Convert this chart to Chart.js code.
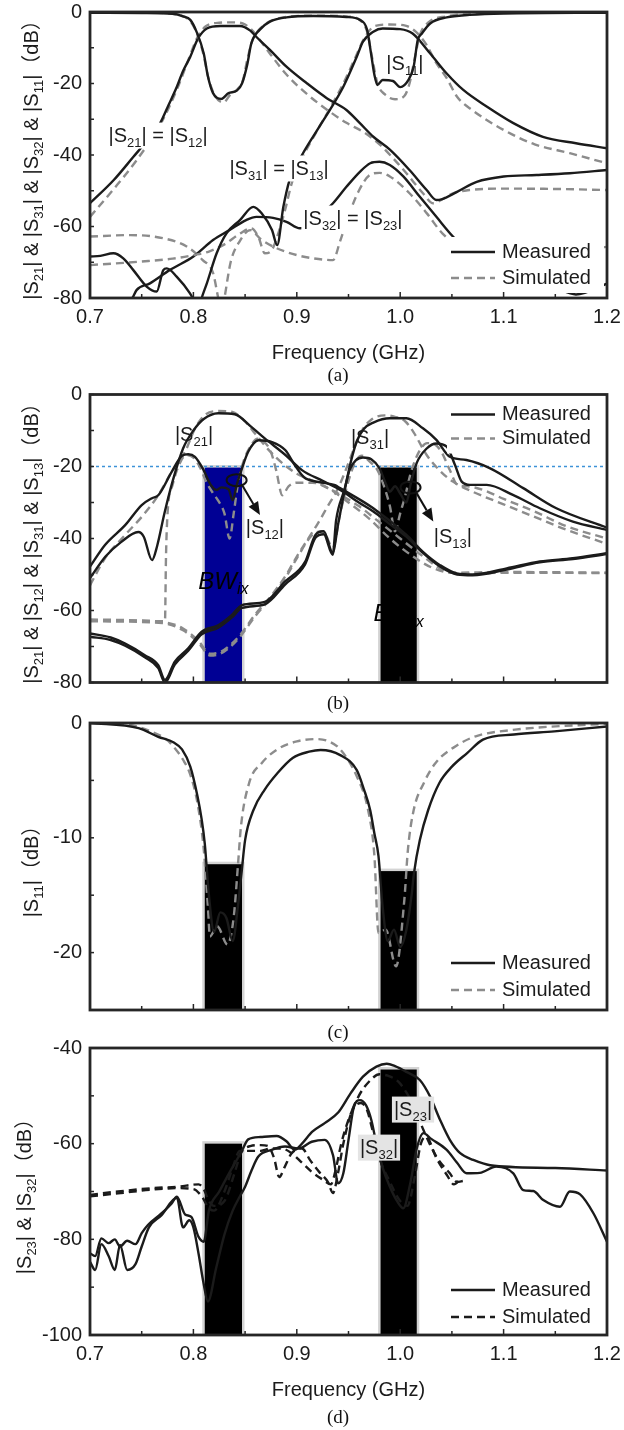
<!DOCTYPE html>
<html>
<head>
<meta charset="utf-8">
<script src="https://cdn.jsdelivr.net/npm/chart.js@4.4.1/dist/chart.umd.min.js"></script>
<style>
  body { margin: 0; background: #fff; }
  #page { position: relative; width: 624px; height: 1430px; overflow: hidden; background: #fff; }
  canvas { position: absolute; left: 0; }
  .cap { position: absolute; left: 338px; transform: translate(-50%, -50%); font: 19px 'Liberation Serif', 'DejaVu Serif', serif; color: #111; }
</style>
</head>
<body>
<div id="page">
  <canvas id="chartA" width="624" height="370" style="top:0px"></canvas>
  <canvas id="chartB" width="624" height="320" style="top:380px"></canvas>
  <canvas id="chartC" width="624" height="310" style="top:710px"></canvas>
  <canvas id="chartD" width="624" height="375" style="top:1030px"></canvas>
  <div class="cap" style="top:375px">(a)</div>
  <div class="cap" style="top:703px">(b)</div>
  <div class="cap" style="top:1032px">(c)</div>
  <div class="cap" style="top:1417px">(d)</div>
</div>
<script>
// ---- shared axis values ----
const freqTicks = [0.7, 0.8, 0.9, 1.0, 1.1, 1.2];
const freqMinor = [0.75, 0.85, 0.95, 1.05, 1.15];
const bandEdges = [[0.811, 0.847], [0.981, 1.016]];
const bandTopsB = [-20.3, -20.3];
const bandTopsC = [-12.3, -12.9];
const bandTopsD = [-60, -44.5];
const thresholdB = -20;

// ---- (a) [GHz, dB] ----
const aS11Meas = [[0.70,-0.2],[0.75,-0.3],[0.78,-0.5],[0.79,-1.2],[0.797,-2.2],[0.803,-5.5],[0.81,-11.6],[0.814,-18],[0.819,-22.7],[0.827,-24.3],[0.834,-22.7],[0.842,-22],[0.847,-20],[0.852,-14.8],[0.856,-8.8],[0.864,-5],[0.874,-2.7],[0.89,-1.5],[0.916,-1.1],[0.948,-1.4],[0.961,-2.2],[0.968,-5],[0.972,-12],[0.975,-17.5],[0.978,-20.4],[0.983,-19],[0.993,-19.3],[1.0,-21],[1.008,-19],[1.013,-15.3],[1.017,-7.8],[1.021,-6],[1.029,-3.2],[1.045,-1.5],[1.067,-0.8],[1.1,-0.4],[1.2,-0.2]];
const aS11Sim = [[0.70,0],[0.76,-0.2],[0.785,-0.8],[0.795,-2],[0.802,-5],[0.809,-11],[0.815,-19],[0.821,-23.5],[0.829,-25.3],[0.836,-23],[0.843,-21.5],[0.848,-19],[0.852,-13.5],[0.857,-8],[0.865,-4.5],[0.875,-2.5],[0.89,-1.4],[0.92,-1.0],[0.95,-1.3],[0.962,-2.5],[0.968,-5.5],[0.973,-13],[0.978,-20],[0.985,-23],[0.995,-24.4],[1.004,-23.5],[1.009,-20],[1.014,-13],[1.019,-6.5],[1.027,-3],[1.045,-1.2],[1.07,-0.5],[1.1,-0.2],[1.2,0]];
const aS21Meas = [[0.70,-53.5],[0.723,-47],[0.742,-40.5],[0.755,-36],[0.768,-31],[0.776,-26],[0.784,-20.9],[0.79,-16.5],[0.797,-12.5],[0.8045,-7.4],[0.813,-4.6],[0.826,-3.9],[0.845,-3.9],[0.855,-5.2],[0.861,-7],[0.874,-10.6],[0.89,-15.3],[0.91,-20],[0.929,-24.1],[0.948,-27.4],[0.961,-31.1],[0.974,-34.9],[0.99,-38.5],[1.009,-44.2],[1.0256,-49.8],[1.035,-52.6],[1.04,-52.4],[1.055,-50.3],[1.074,-47.5],[1.1,-46],[1.132,-45.6],[1.164,-45.1],[1.2,-44.2]];
const aS21Sim = [[0.70,-57.3],[0.723,-49.5],[0.745,-41.5],[0.768,-31.5],[0.784,-21.7],[0.795,-13.5],[0.804,-7],[0.812,-4],[0.825,-3],[0.84,-2.9],[0.85,-3.5],[0.858,-5.5],[0.866,-8.5],[0.875,-12],[0.89,-17.5],[0.91,-23],[0.93,-27.5],[0.948,-31],[0.964,-33.5],[0.98,-37],[0.995,-41.5],[1.006,-45.1],[1.022,-50.7],[1.032,-53.5],[1.04,-52.5],[1.051,-50.7],[1.067,-49.8],[1.1,-49.4],[1.15,-49.5],[1.2,-49.8]];
const aS31Meas = [[0.70,-68.4],[0.71,-68.2],[0.7226,-67.5],[0.7322,-68.9],[0.7419,-72.2],[0.7548,-76.8],[0.7645,-78.2],[0.7709,-72.2],[0.7742,-71.7],[0.7838,-74],[0.7967,-78.7],[0.80,-80.5],[0.804,-84],[0.808,-80],[0.813,-75.9],[0.8225,-67.5],[0.832,-61.9],[0.845,-58.2],[0.858,-54.5],[0.866,-56.3],[0.876,-61],[0.881,-65.2],[0.887,-54.5],[0.893,-47],[0.906,-39.5],[0.922,-32],[0.932,-27.4],[0.945,-20.9],[0.958,-12.5],[0.964,-8.3],[0.974,-5.5],[0.983,-4.6],[1.0,-4.8],[1.012,-6],[1.029,-11.6],[1.045,-17.2],[1.061,-21.8],[1.084,-26.5],[1.109,-31],[1.138,-34.9],[1.17,-36.7],[1.2,-38.1]];
const aS31Sim = [[0.70,-70.8],[0.75,-69.8],[0.78,-69],[0.80,-68],[0.815,-67],[0.83,-65],[0.845,-62],[0.856,-60.5],[0.863,-63],[0.869,-67.5],[0.876,-66.5],[0.882,-62],[0.889,-55],[0.895,-48],[0.905,-41],[0.92,-33],[0.932,-27],[0.945,-20],[0.957,-12.5],[0.965,-7.5],[0.975,-4],[0.99,-3.5],[1.005,-3.8],[1.015,-5.5],[1.025,-9],[1.035,-14.3],[1.045,-18.5],[1.055,-23.7],[1.07,-27.5],[1.1,-33],[1.13,-37],[1.164,-39.5],[1.2,-42.3]];
const aS32Meas = [[0.73,-84],[0.741,-80],[0.745,-77.8],[0.758,-75.9],[0.777,-72.2],[0.80,-68.4],[0.819,-63.8],[0.835,-61],[0.851,-58.2],[0.861,-57.3],[0.877,-57.6],[0.89,-58.7],[0.903,-60.5],[0.912,-60],[0.925,-56.3],[0.935,-53.5],[0.948,-48.9],[0.961,-44.7],[0.971,-42.3],[0.98,-41.9],[0.99,-42.8],[1.003,-46],[1.019,-51.7],[1.035,-57.3],[1.051,-62.8],[1.07,-68],[1.09,-71],[1.12,-74],[1.15,-77],[1.17,-79],[1.2,-76]];
const aS32Sim = [[0.70,-62.8],[0.739,-62.4],[0.771,-63.3],[0.7935,-65.6],[0.809,-69.4],[0.819,-73],[0.824,-80],[0.827,-84],[0.83,-80],[0.836,-70],[0.845,-64],[0.855,-61],[0.865,-63.5],[0.88,-66],[0.9,-68],[0.916,-68.9],[0.935,-69.4],[0.942,-64],[0.95,-57],[0.96,-50],[0.971,-45.5],[0.98,-45],[0.99,-46],[1.009,-50.7],[1.026,-56.4],[1.041,-62],[1.06,-66],[1.1,-67.5],[1.15,-67],[1.2,-65.7]];

// ---- (b) ----
const bS21Meas = [[0.70,-51],[0.715,-45],[0.73,-41],[0.7467,-38.2],[0.752,-39.5],[0.76,-46],[0.765,-42],[0.772,-33],[0.78,-24],[0.79,-15],[0.80,-10],[0.81,-6.8],[0.824,-5.2],[0.84,-5.5],[0.856,-9],[0.869,-12.2],[0.889,-16.8],[0.905,-21],[0.925,-24],[0.942,-26.5],[0.96,-30],[0.974,-32.5],[0.99,-36],[1.006,-39.5],[1.022,-44],[1.0385,-47.8],[1.055,-50],[1.07,-50.2],[1.103,-48.6],[1.135,-46.6],[1.167,-45.7],[1.2,-44.3]];
const bS12Meas = [[0.70,-47.8],[0.7145,-41.8],[0.734,-36.3],[0.75,-30.7],[0.76,-28.8],[0.766,-28],[0.779,-21.5],[0.789,-17],[0.795,-16.6],[0.8015,-17.3],[0.809,-20.5],[0.817,-25.2],[0.8225,-26.5],[0.827,-25.8],[0.834,-26.3],[0.838,-29.4],[0.842,-25],[0.847,-20.5],[0.853,-15.9],[0.863,-12.7],[0.876,-13.2],[0.889,-15.5],[0.898,-19.6],[0.907,-23],[0.921,-24.3],[0.937,-25.2],[0.9418,-26],[0.974,-31.6],[1.006,-39],[1.022,-43.7],[1.0385,-47.4],[1.0546,-49.7],[1.07,-50],[1.103,-48.3],[1.135,-46.4],[1.167,-45.5],[1.2,-44.1]];
const bS31Meas = [[0.70,-66.4],[0.72,-67.5],[0.734,-69.2],[0.753,-72.4],[0.766,-75.2],[0.7725,-79.3],[0.782,-74.2],[0.795,-70.5],[0.808,-65.9],[0.824,-64.1],[0.837,-61.3],[0.847,-58.5],[0.869,-57.6],[0.8886,-52],[0.908,-46.5],[0.918,-39],[0.926,-38],[0.9347,-43.9],[0.94,-36],[0.946,-27],[0.952,-19],[0.958,-13],[0.965,-9.5],[0.974,-7.8],[0.99,-6.6],[1.006,-6.6],[1.022,-9.4],[1.035,-12.6],[1.048,-17.3],[1.064,-18.2],[1.087,-20.5],[1.119,-26],[1.151,-31.6],[1.2,-37]];
const bS13Meas = [[0.70,-67.3],[0.72,-68.2],[0.734,-69.8],[0.753,-73],[0.766,-76],[0.7725,-80],[0.782,-75],[0.795,-71.2],[0.808,-66.6],[0.824,-64.8],[0.837,-62],[0.847,-59.3],[0.869,-58.3],[0.8886,-52.8],[0.908,-47.2],[0.918,-39.8],[0.926,-38.8],[0.9347,-44.5],[0.938,-35],[0.946,-26.5],[0.951,-21],[0.957,-18.3],[0.964,-17.5],[0.972,-18],[0.98,-20.5],[0.985,-24],[0.99,-27],[0.995,-25.5],[1.0,-27.5],[1.006,-30],[1.01,-25],[1.016,-19],[1.0256,-15],[1.035,-13.6],[1.045,-14.5],[1.053,-19.6],[1.0595,-24.2],[1.0675,-25.1],[1.0837,-25.1],[1.109,-27.9],[1.135,-31.6],[1.167,-35.3],[1.2,-37.6]];
const bS21Sim = [[0.70,-53],[0.7145,-45.5],[0.734,-39],[0.75,-34],[0.766,-28],[0.779,-21.5],[0.792,-15.9],[0.8016,-9.4],[0.811,-5.7],[0.824,-4.6],[0.837,-4.8],[0.85,-7.5],[0.86,-11],[0.87,-14.5],[0.88,-17.5],[0.89,-20],[0.9,-22],[0.92,-24.5],[0.94,-27.5],[0.96,-31],[0.98,-35.5],[1.0,-40],[1.02,-44.5],[1.04,-48.5],[1.06,-49.8],[1.1,-49.5],[1.2,-49.6]];
const bS12Sim = [[0.70,-62.7],[0.74,-62.8],[0.7725,-63],[0.7735,-45],[0.775,-33],[0.78,-25],[0.787,-19],[0.793,-16.8],[0.80,-17.5],[0.806,-20],[0.812,-24],[0.818,-27],[0.824,-29.5],[0.83,-33],[0.835,-40],[0.839,-33],[0.843,-25],[0.848,-19],[0.855,-14.5],[0.862,-12.3],[0.868,-13],[0.875,-16],[0.88,-21],[0.886,-28],[0.892,-25.5],[0.90,-24.5],[0.915,-24.5],[0.93,-26],[0.95,-30],[0.97,-34.5],[0.99,-40],[1.01,-44.5],[1.03,-48],[1.05,-49.5],[1.1,-49.3],[1.2,-49.5]];
const bS31Sim = [[0.70,-62.5],[0.77,-63.2],[0.79,-65],[0.805,-68.5],[0.816,-72],[0.826,-71.5],[0.836,-69.5],[0.846,-66.5],[0.86,-61],[0.875,-56],[0.89,-50],[0.90,-45],[0.91,-40.5],[0.92,-36],[0.93,-31],[0.94,-26],[0.948,-20.5],[0.956,-14.5],[0.963,-10],[0.972,-7],[0.985,-5.8],[0.995,-6.2],[1.005,-7.5],[1.013,-10.5],[1.0256,-16.8],[1.0385,-21.2],[1.051,-24.2],[1.07,-27],[1.1,-30.5],[1.13,-34],[1.16,-37.5],[1.2,-41.5]];
const bS13Sim = [[0.70,-63],[0.77,-63.5],[0.79,-65.5],[0.805,-69],[0.816,-72.5],[0.826,-72],[0.836,-70],[0.846,-67],[0.86,-61.5],[0.875,-56.5],[0.89,-50.5],[0.90,-45.5],[0.915,-39],[0.925,-38],[0.935,-42.5],[0.942,-33],[0.95,-24],[0.957,-18.5],[0.963,-17],[0.97,-18.5],[0.978,-21],[0.985,-26],[0.99,-31],[0.995,-38],[1.0,-33],[1.005,-28],[1.01,-22],[1.018,-16],[1.026,-13.5],[1.033,-13.8],[1.04,-16],[1.048,-21],[1.055,-25],[1.065,-25.5],[1.08,-26.5],[1.1,-29],[1.13,-32.5],[1.16,-36.5],[1.2,-40]];

// ---- (c) ----
const cS11Meas = [[0.70,0],[0.747,-0.45],[0.766,-1.2],[0.781,-1.7],[0.789,-2.3],[0.797,-3.8],[0.804,-6.4],[0.808,-8.4],[0.811,-10.5],[0.815,-15],[0.82,-18.2],[0.826,-16.5],[0.832,-17],[0.838,-19],[0.843,-16],[0.8465,-13.1],[0.85,-10.2],[0.858,-7.6],[0.869,-5.8],[0.881,-4.4],[0.896,-3.05],[0.912,-2.5],[0.923,-2.35],[0.942,-2.8],[0.958,-4.1],[0.965,-5.8],[0.971,-7.6],[0.975,-9.6],[0.979,-11.6],[0.983,-16],[0.988,-19],[0.994,-18],[1.0,-19.5],[1.006,-18],[1.011,-15],[1.0133,-13.1],[1.019,-10.2],[1.027,-7.6],[1.038,-5.2],[1.05,-3.8],[1.065,-2.6],[1.08,-1.45],[1.11,-1.0],[1.149,-0.73],[1.2,-0.3]];
const cS11Sim = [[0.70,0],[0.73,-0.06],[0.758,-0.7],[0.774,-1.45],[0.783,-2.3],[0.79,-3.2],[0.797,-4.5],[0.804,-7],[0.81,-11],[0.814,-16],[0.816,-18.6],[0.823,-17.7],[0.833,-19.3],[0.839,-16.9],[0.843,-12.5],[0.846,-9],[0.854,-5.2],[0.866,-3.5],[0.881,-2.3],[0.90,-1.6],[0.919,-1.4],[0.931,-1.6],[0.942,-2.3],[0.958,-4.65],[0.969,-7.6],[0.975,-11.5],[0.979,-18.3],[0.986,-18],[0.996,-21.2],[1.004,-15.4],[1.0075,-11],[1.013,-7.6],[1.023,-5.2],[1.034,-3.5],[1.054,-2],[1.073,-1.16],[1.111,-0.58],[1.2,-0.06]];

// ---- (d) ----
const dS23Meas = [[0.70,-82.9],[0.705,-83.5],[0.711,-79.8],[0.718,-80.8],[0.724,-80],[0.729,-81.5],[0.736,-80.3],[0.744,-81],[0.75,-78.7],[0.756,-77],[0.769,-74.6],[0.779,-72.5],[0.784,-71.1],[0.792,-74.8],[0.798,-75.3],[0.805,-79.5],[0.81,-80.5],[0.815,-74],[0.825,-70],[0.835,-66],[0.843,-63],[0.848,-61],[0.853,-59.1],[0.865,-58.6],[0.8805,-58.4],[0.89,-59.5],[0.898,-61.3],[0.905,-60],[0.915,-57.5],[0.927,-55.7],[0.94,-53.5],[0.952,-49.5],[0.964,-46],[0.977,-43.9],[0.987,-43.3],[0.995,-43.8],[1.006,-45],[1.019,-46.7],[1.029,-50.2],[1.0385,-55],[1.048,-59.2],[1.058,-62],[1.0707,-63.4],[1.087,-64.5],[1.15,-65.1],[1.2,-65.6]];
const dS32Meas = [[0.70,-84.7],[0.705,-86.4],[0.711,-81],[0.718,-83.5],[0.724,-86.4],[0.729,-81.2],[0.736,-86.4],[0.744,-85.2],[0.75,-81.5],[0.757,-77.5],[0.769,-75],[0.784,-71.3],[0.79,-77.5],[0.796,-76],[0.80,-77.5],[0.805,-83],[0.8096,-88.9],[0.814,-93],[0.822,-86],[0.83,-79],[0.838,-74],[0.845,-71],[0.85,-69],[0.8564,-65.5],[0.8628,-62.7],[0.8757,-61.3],[0.8886,-60.6],[0.9015,-61],[0.9144,-59.6],[0.927,-59.2],[0.935,-62.4],[0.94,-68.3],[0.945,-66.2],[0.95,-59.2],[0.955,-52.5],[0.961,-50.9],[0.967,-52],[0.972,-55],[0.977,-60],[0.983,-65],[0.99,-69],[0.997,-72],[1.003,-73.5],[1.01,-68],[1.016,-61],[1.0224,-57.8],[1.03,-59],[1.045,-61.3],[1.055,-64],[1.0643,-66.2],[1.077,-66.1],[1.093,-64.8],[1.1094,-66.2],[1.119,-69.7],[1.1287,-69.9],[1.1384,-71.8],[1.1545,-73.2],[1.164,-70],[1.174,-70.6],[1.187,-74.6],[1.2,-80.5]];
const dS23Sim = [[0.70,-70.7],[0.727,-70],[0.76,-69.3],[0.785,-69],[0.805,-68.5],[0.81,-69.5],[0.815,-72],[0.82,-73],[0.83,-72],[0.84,-66],[0.846,-62],[0.855,-60.5],[0.865,-60.3],[0.872,-60.5],[0.878,-63],[0.883,-67],[0.888,-65],[0.895,-62],[0.905,-61],[0.913,-63.5],[0.922,-66],[0.93,-68],[0.935,-70.3],[0.94,-66],[0.945,-60],[0.952,-54],[0.96,-50],[0.97,-47],[0.98,-45.5],[0.988,-45.8],[0.998,-47],[1.008,-50],[1.015,-53],[1.0224,-57.1],[1.035,-62.7],[1.048,-66.2],[1.055,-68],[1.061,-67.8]];
const dS32Sim = [[0.70,-71],[0.727,-70.4],[0.76,-69.6],[0.785,-69.3],[0.80,-69.5],[0.808,-71],[0.815,-73.5],[0.82,-74],[0.83,-70],[0.838,-65],[0.845,-61.5],[0.855,-61.5],[0.865,-61.5],[0.875,-61],[0.885,-61],[0.895,-62],[0.905,-64],[0.915,-66],[0.925,-67.5],[0.933,-68.5],[0.937,-66],[0.943,-60],[0.95,-55],[0.955,-52.5],[0.962,-51.5],[0.968,-53],[0.973,-57],[0.98,-63],[0.99,-68],[1.0,-72],[1.007,-73],[1.014,-67],[1.02,-60],[1.025,-58.5],[1.035,-63],[1.045,-66.5],[1.052,-68.5],[1.058,-67.5]];

const FONT = "'Liberation Sans', Arial, 'Noto Sans CJK SC', sans-serif";
const INK = '#1b1b1b';
const GRAY = '#8c8c8c';

// decorations for each panel (text, bands, legend rows as offsets from plot top)
const decos = {
  chartA: {
    yTitle: '|S_{21}| & |S_{31}| & |S_{32}| & |S_{11}|（dB）', yTitleX: 31, yMinor: 10,
    labels: [
      { text: '|S_{21}| = |S_{12}|', at: [0.7658, -34.4], bg: '#fff' },
      { text: '|S_{31}| = |S_{13}|', at: [0.8828, -43.6], bg: '#fff' },
      { text: '|S_{32}| = |S_{23}|', at: [0.9543, -57.6], bg: '#fff' },
      { text: '|S_{11}|', at: [1.0046, -14.3] }
    ],
    legend: [240, 266], simColor: GRAY
  },
  chartB: {
    yTitle: '|S_{21}| & |S_{12}| & |S_{31}| & |S_{13}|（dB）', yTitleX: 31, yMinor: 10,
    bands: { tops: bandTopsB, colors: ['#000094', '#000000'] }, threshold: thresholdB,
    labels: [
      { text: '|S_{21}|', at: [0.8006, -11] },
      { text: '|S_{31}|', at: [0.9708, -11.8] },
      { text: '|S_{12}|', at: [0.8692, -36.8] },
      { text: '|S_{13}|', at: [1.051, -39.3] },
      { text: 'BW_{ix}', at: [0.829, -51.5], italic: true, size: 24, color: '#000' },
      { text: 'BW_{ix}', at: [0.9985, -60.5], italic: true, size: 24, color: '#000' }
    ],
    rings: [[0.8418, -23.8, 0.8644, -33.5], [1.01, -25.8, 1.032, -35.3]],
    legend: [20, 44], simColor: GRAY
  },
  chartC: {
    yTitle: '|S_{11}|（dB）', yTitleX: 31, yMinor: 5,
    bands: { tops: bandTopsC, colors: ['#000', '#000'] },
    labels: [], legend: [240, 267], simColor: GRAY
  },
  chartD: {
    yTitle: '|S_{23}| & |S_{32}|（dB）', yTitleX: 24, yMinor: 10,
    bands: { tops: bandTopsD, colors: ['#000', '#000'] },
    labels: [
      { text: '|S_{23}|', at: [1.0124, -52.75], bg: '#e4e4e4' },
      { text: '|S_{32}|', at: [0.9795, -60.7], bg: '#e4e4e4' }
    ],
    legend: [242, 269], simColor: INK
  }
};

function parseRich(str) {
  const parts = [];
  const re = /_\{([^}]*)\}/g;
  let last = 0, m;
  while ((m = re.exec(str))) {
    if (m.index > last) parts.push({ t: str.slice(last, m.index), sub: false });
    parts.push({ t: m[1], sub: true });
    last = re.lastIndex;
  }
  if (last < str.length) parts.push({ t: str.slice(last), sub: false });
  return parts;
}

// draw text with subscripts centred on (x, y)
function drawRich(ctx, str, x, y, o) {
  o = o || {};
  const size = o.size || 20;
  const parts = parseRich(str);
  const fontOf = sub => (o.italic ? 'italic ' : '') + (sub ? Math.round(size * 0.66) : size) + 'px ' + FONT;
  let w = 0;
  parts.forEach(p => { ctx.font = fontOf(p.sub); p.w = ctx.measureText(p.t).width; w += p.w; });
  let cx = x - w / 2;
  if (o.bg) {
    ctx.fillStyle = o.bg;
    ctx.fillRect(cx - 2, y - size * 0.62, w + 4, size * 1.3);
  }
  ctx.fillStyle = o.color || INK;
  ctx.textBaseline = 'alphabetic';
  ctx.textAlign = 'left';
  const base = y + size * 0.36;
  parts.forEach(p => {
    ctx.font = fontOf(p.sub);
    ctx.fillText(p.t, cx, base + (p.sub ? size * 0.24 : 0));
    cx += p.w;
  });
}

function drawArrow(ctx, x1, y1, x2, y2) {
  const a = Math.atan2(y2 - y1, x2 - x1);
  const L = 13, W = 5.5;
  const bx = x2 - L * Math.cos(a), by = y2 - L * Math.sin(a);
  ctx.beginPath(); ctx.moveTo(x1, y1); ctx.lineTo(bx, by); ctx.stroke();
  ctx.beginPath();
  ctx.moveTo(x2, y2);
  ctx.lineTo(bx + W * Math.sin(a), by - W * Math.cos(a));
  ctx.lineTo(bx - W * Math.sin(a), by + W * Math.cos(a));
  ctx.closePath(); ctx.fill();
}

const decoPlugin = {
  id: 'deco',
  beforeDatasetsDraw(chart) {
    const d = decos[chart.canvas.id];
    const ctx = chart.ctx, xs = chart.scales.x, ys = chart.scales.y, area = chart.chartArea;
    ctx.save();
    if (d.bands) {
      d.bands.tops.forEach((top, i) => {
        const x1 = xs.getPixelForValue(bandEdges[i][0]);
        const x2 = xs.getPixelForValue(bandEdges[i][1]);
        const y1 = ys.getPixelForValue(top);
        ctx.fillStyle = '#d4d4d4';
        ctx.fillRect(x1 - 2.5, y1 - 2.5, x2 - x1 + 5, area.bottom - y1 + 2.5);
        ctx.fillStyle = d.bands.colors[i];
        ctx.fillRect(x1, y1, x2 - x1, area.bottom - y1);
      });
    }
    if (d.threshold !== undefined) {
      const y = ys.getPixelForValue(d.threshold);
      ctx.strokeStyle = '#3d92d8'; ctx.lineWidth = 1.5; ctx.setLineDash([3, 3]);
      ctx.beginPath(); ctx.moveTo(area.left, y); ctx.lineTo(area.right, y); ctx.stroke();
      ctx.setLineDash([]);
    }
    ctx.restore();
  },
  afterDatasetsDraw(chart) {
    const d = decos[chart.canvas.id];
    const ctx = chart.ctx, xs = chart.scales.x, ys = chart.scales.y, area = chart.chartArea;
    ctx.save();
    d.labels.forEach(l => {
      drawRich(ctx, l.text, xs.getPixelForValue(l.at[0]), ys.getPixelForValue(l.at[1]), l);
    });
    (d.rings || []).forEach(r => {
      const cx = xs.getPixelForValue(r[0]), cy = ys.getPixelForValue(r[1]);
      ctx.strokeStyle = '#111'; ctx.fillStyle = '#111'; ctx.lineWidth = 2;
      ctx.beginPath(); ctx.ellipse(cx, cy, 10, 6, 0, 0, Math.PI * 2); ctx.stroke();
      drawArrow(ctx, cx + 5, cy + 4, xs.getPixelForValue(r[2]), ys.getPixelForValue(r[3]));
    });
    // legend
    const r1 = area.top + d.legend[0], r2 = area.top + d.legend[1];
    ctx.fillStyle = '#fff';
    ctx.fillRect(area.right - 160, r1 - 15, 157, r2 - r1 + 30);
    const lx1 = area.right - 156, lx2 = area.right - 112;
    ctx.lineWidth = 2.6;
    ctx.strokeStyle = INK; ctx.setLineDash([]);
    ctx.beginPath(); ctx.moveTo(lx1, r1); ctx.lineTo(lx2, r1); ctx.stroke();
    ctx.strokeStyle = d.simColor; ctx.setLineDash([8, 5]);
    ctx.beginPath(); ctx.moveTo(lx1, r2); ctx.lineTo(lx2, r2); ctx.stroke();
    ctx.setLineDash([]);
    ctx.fillStyle = INK; ctx.font = '20px ' + FONT; ctx.textBaseline = 'middle'; ctx.textAlign = 'left';
    ctx.fillText('Measured', area.right - 105, r1);
    ctx.fillText('Simulated', area.right - 105, r2);
    ctx.restore();
  },
  afterDraw(chart) {
    const d = decos[chart.canvas.id];
    const ctx = chart.ctx, xs = chart.scales.x, ys = chart.scales.y, area = chart.chartArea;
    ctx.save();
    ctx.strokeStyle = '#262626'; ctx.lineWidth = 1.5;
    freqTicks.concat(freqMinor).forEach(f => {
      const px = xs.getPixelForValue(f);
      const len = freqMinor.includes(f) ? 4 : 6;
      ctx.beginPath(); ctx.moveTo(px, area.bottom); ctx.lineTo(px, area.bottom - len); ctx.stroke();
    });
    for (let v = ys.max; v >= ys.min; v -= d.yMinor) {
      const py = ys.getPixelForValue(v);
      ctx.beginPath(); ctx.moveTo(area.left, py); ctx.lineTo(area.left + 4, py); ctx.stroke();
    }
    ctx.lineWidth = 2.8;
    ctx.strokeRect(area.left, area.top, area.right - area.left, area.bottom - area.top);
    ctx.translate(d.yTitleX, (area.top + area.bottom) / 2);
    ctx.rotate(-Math.PI / 2);
    drawRich(ctx, d.yTitle, 0, 0, { size: 20 });
    ctx.restore();
  }
};

function makeChart(id, series, y, layout) {
  const d = decos[id];
  const datasets = series.map(s => ({
    label: s[0],
    data: s[1].map(p => ({ x: p[0], y: p[1] })),
    borderColor: s[2] ? d.simColor : INK,
    borderDash: s[2] ? [8, 5] : [],
    borderWidth: 2.4,
    pointRadius: 0,
    fill: false,
    cubicInterpolationMode: 'monotone'
  }));
  const tickFont = { family: FONT, size: 20, lineHeight: 1 };
  return new Chart(document.getElementById(id), {
    type: 'line',
    data: { datasets },
    options: {
      responsive: false,
      animation: false,
      events: [],
      layout: { padding: { left: 0, right: 17, top: layout.top, bottom: 0 } },
      plugins: { legend: { display: false }, tooltip: { enabled: false } },
      scales: {
        x: {
          type: 'linear', min: 0.7, max: 1.2,
          afterFit: s => { s.height = layout.xh; s.paddingLeft = 0; s.paddingRight = 0; },
          grid: { display: false, drawTicks: false }, border: { display: false },
          ticks: {
            display: layout.xLabels, stepSize: 0.1, autoSkip: false, maxRotation: 0, padding: 9,
            color: INK, font: tickFont, callback: v => Number(v).toFixed(1)
          },
          title: {
            display: layout.xLabels, text: 'Frequency (GHz)', color: INK,
            font: { family: FONT, size: 20, lineHeight: 1.2 }, padding: { top: 0, bottom: layout.tp || 0 }
          }
        },
        y: {
          min: y.min, max: y.max,
          afterFit: s => { s.width = 90; s.paddingTop = 0; s.paddingBottom = 0; },
          grid: { display: false, drawTicks: false }, border: { display: false },
          ticks: {
            stepSize: y.step, padding: 8, color: INK, font: tickFont,
            callback: v => (Math.round(v) % y.label === 0 ? String(Math.round(v)) : '')
          }
        }
      }
    },
    plugins: [decoPlugin]
  });
}

makeChart('chartA', [
  ['S11 measured', aS11Meas], ['S11 simulated', aS11Sim, true],
  ['S21 measured', aS21Meas], ['S21 simulated', aS21Sim, true],
  ['S31 measured', aS31Meas], ['S31 simulated', aS31Sim, true],
  ['S32 measured', aS32Meas], ['S32 simulated', aS32Sim, true]
], { min: -80, max: 0, step: 20, label: 20 }, { top: 12, xh: 72, xLabels: true, tp: 5 });

makeChart('chartB', [
  ['S21 measured', bS21Meas], ['S12 measured', bS12Meas],
  ['S31 measured', bS31Meas], ['S13 measured', bS13Meas],
  ['S21 simulated', bS21Sim, true], ['S12 simulated', bS12Sim, true],
  ['S31 simulated', bS31Sim, true], ['S13 simulated', bS13Sim, true]
], { min: -80, max: 0, step: 20, label: 20 }, { top: 14.5, xh: 17.5, xLabels: false });

makeChart('chartC', [
  ['S11 measured', cS11Meas], ['S11 simulated', cS11Sim, true]
], { min: -25, max: 0, step: 5, label: 10 }, { top: 13, xh: 10, xLabels: false });

makeChart('chartD', [
  ['S23 measured', dS23Meas], ['S32 measured', dS32Meas],
  ['S23 simulated', dS23Sim, true], ['S32 simulated', dS32Sim, true]
], { min: -100, max: -40, step: 20, label: 20 }, { top: 18, xh: 70, xLabels: true, tp: 3 });
</script>
</body>
</html>
